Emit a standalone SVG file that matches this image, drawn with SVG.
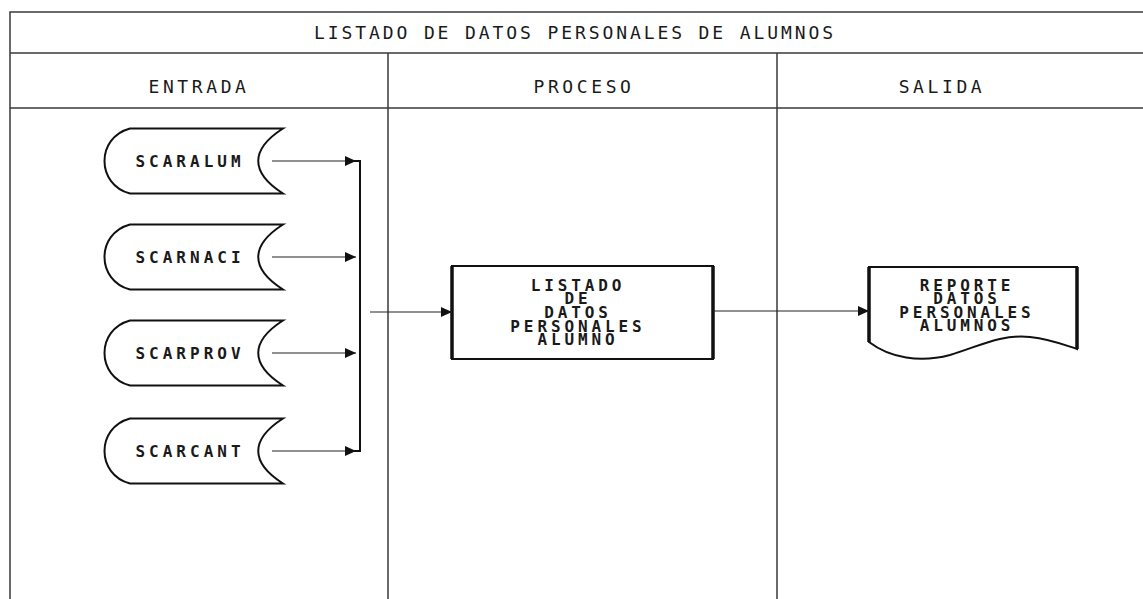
<svg xmlns="http://www.w3.org/2000/svg" width="1143" height="599" viewBox="0 0 1143 599">
<style>
.frame{stroke:#3a3a3a;stroke-width:1.5;fill:none}
.hdr{font-family:"DejaVu Sans Mono","Liberation Mono",monospace;font-size:18px;fill:#1a1a1a;text-anchor:middle}
.shape{fill:#fff;stroke:#111;stroke-width:2}
.lbl{font-family:"DejaVu Sans Mono","Liberation Mono",monospace;font-weight:bold;font-size:16px;fill:#1a1a1a;text-anchor:middle;letter-spacing:4px}
.blk{font-family:"DejaVu Sans Mono","Liberation Mono",monospace;font-weight:bold;font-size:16px;fill:#1a1a1a;text-anchor:middle;letter-spacing:3.9px}
.conn{stroke:#222;stroke-width:1.2;fill:none}
</style>
<defs>
<marker id="ah" markerUnits="userSpaceOnUse" markerWidth="12" markerHeight="10" refX="11" refY="5" orient="auto">
<path d="M0,0 L11,5 L0,10 Z" fill="#111"/>
</marker>
<path id="disk" d="M25,0 L178,0 C145,21 145,44 178,65 L25,65 C-9,56 -9,9 25,0 Z"/>
</defs>
<rect width="1143" height="599" fill="#fff"/>
<g id="frame">
<path class="frame" d="M10,599 V12 H1143 M10,53 H1143 M10,108 H1143 M388,53 V599 M777,53 V599"/>
<text class="hdr" x="575" y="39" style="letter-spacing:2.9px">LISTADO DE DATOS PERSONALES DE ALUMNOS</text>
<text class="hdr" x="199" y="93" style="letter-spacing:3.6px">ENTRADA</text>
<text class="hdr" x="584" y="93" style="letter-spacing:3.6px">PROCESO</text>
<text class="hdr" x="942" y="93" style="letter-spacing:3.6px">SALIDA</text>
</g>
<g id="scaralum">
<use href="#disk" class="shape" transform="translate(105,128.5)"/>
<text class="lbl" x="190" y="167">SCARALUM</text>
</g>
<g id="scarnaci">
<use href="#disk" class="shape" transform="translate(105,224.5)"/>
<text class="lbl" x="190" y="263">SCARNACI</text>
</g>
<g id="scarprov">
<use href="#disk" class="shape" transform="translate(105,320.5)"/>
<text class="lbl" x="190" y="359">SCARPROV</text>
</g>
<g id="scarcant">
<use href="#disk" class="shape" transform="translate(105,418.5)"/>
<text class="lbl" x="190" y="457">SCARCANT</text>
</g>
<g id="proceso">
<rect x="452" y="266" width="261" height="93" fill="#fff" stroke="#111" stroke-width="2"/>
<path d="M452,266 V359 M713,266 V359" stroke="#111" stroke-width="3.5"/>
<text class="blk" x="578" y="291">LISTADO</text>
<text class="blk" x="578" y="304">DE</text>
<text class="blk" x="578" y="318">DATOS</text>
<text class="blk" x="578" y="332">PERSONALES</text>
<text class="blk" x="578" y="345">ALUMNO</text>
</g>
<g id="reporte">
<path d="M869,267 H1077 V349 C1065,345 1050,339 1030,337 C1000,334 980,346 950,355 C920,363 890,358 869,342 Z" fill="#fff" stroke="#111" stroke-width="2"/>
<path d="M869,267 V342 M1077,267 V349" stroke="#111" stroke-width="3.5"/>
<text class="blk" x="967" y="291">REPORTE</text>
<text class="blk" x="967" y="304">DATOS</text>
<text class="blk" x="967" y="318">PERSONALES</text>
<text class="blk" x="967" y="331">ALUMNOS</text>
</g>
<g id="connectors">
<line class="conn" x1="272" y1="161" x2="356" y2="161" marker-end="url(#ah)"/>
<line class="conn" x1="272" y1="257" x2="356" y2="257" marker-end="url(#ah)"/>
<line class="conn" x1="272" y1="353" x2="356" y2="353" marker-end="url(#ah)"/>
<line class="conn" x1="272" y1="451" x2="356" y2="451" marker-end="url(#ah)"/>
<path d="M354,161 H360 V451 H354" stroke="#111" stroke-width="2" fill="none"/>
<line class="conn" x1="370" y1="312" x2="452" y2="312" marker-end="url(#ah)"/>
<line class="conn" x1="713" y1="311" x2="869" y2="311" marker-end="url(#ah)"/>
</g>
</svg>
